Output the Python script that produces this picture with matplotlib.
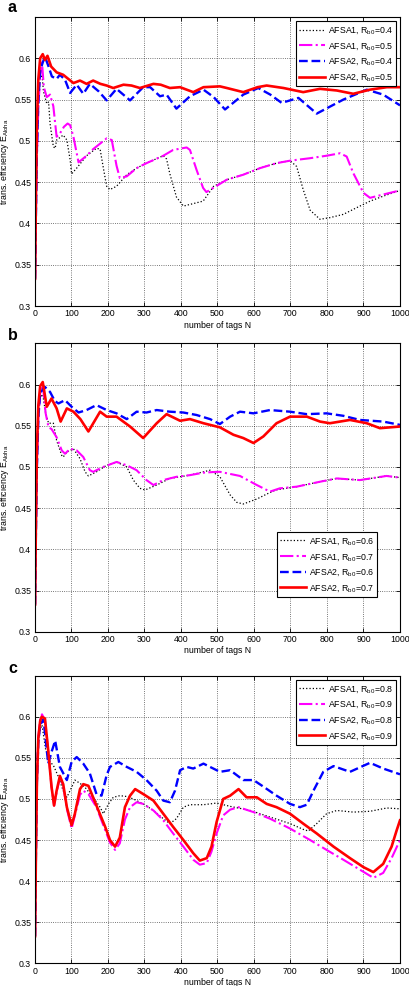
import matplotlib
matplotlib.use("Agg")
import matplotlib.pyplot as plt

plt.rcParams['font.family'] = ['Liberation Sans', 'DejaVu Sans']
plt.rcParams['mathtext.default'] = 'regular'

# ---------------- Panel a ----------------
a_k_n = [1, 3, 6, 10, 15, 20, 24, 33, 38, 42, 51, 56, 60, 78, 88, 97, 101, 115, 142, 169, 179, 188, 197, 206, 224, 252, 279, 306, 352, 361, 370, 388, 407, 425, 461, 490, 526, 571, 617, 662, 699, 717, 735, 754, 781, 808, 845, 881, 918, 954, 1000]
a_k_e = [0.333, 0.40, 0.48, 0.54, 0.575, 0.58, 0.56, 0.545, 0.547, 0.521, 0.493, 0.491, 0.501, 0.507, 0.501, 0.477, 0.46, 0.467, 0.482, 0.491, 0.49, 0.467, 0.445, 0.441, 0.445, 0.459, 0.467, 0.473, 0.482, 0.478, 0.46, 0.432, 0.421, 0.423, 0.427, 0.445, 0.453, 0.459, 0.467, 0.473, 0.476, 0.469, 0.441, 0.416, 0.405, 0.407, 0.411, 0.419, 0.427, 0.433, 0.440]
a_m_n = [1, 3, 6, 10, 15, 20, 25, 33, 42, 51, 60, 69, 80, 90, 97, 106, 120, 142, 160, 180, 197, 211, 224, 233, 252, 279, 306, 352, 379, 416, 425, 443, 461, 470, 500, 526, 571, 617, 662, 699, 754, 799, 836, 854, 872, 900, 918, 954, 1000]
a_m_e = [0.333, 0.40, 0.48, 0.54, 0.58, 0.595, 0.565, 0.553, 0.556, 0.542, 0.505, 0.509, 0.517, 0.521, 0.519, 0.505, 0.474, 0.482, 0.49, 0.497, 0.503, 0.501, 0.47, 0.455, 0.457, 0.467, 0.473, 0.482, 0.489, 0.492, 0.489, 0.465, 0.443, 0.438, 0.446, 0.453, 0.459, 0.467, 0.473, 0.476, 0.479, 0.482, 0.485, 0.481, 0.461, 0.437, 0.431, 0.435, 0.440]
a_b_n = [1, 3, 6, 10, 15, 22, 28, 38, 47, 60, 69, 83, 97, 115, 133, 151, 175, 197, 224, 261, 297, 316, 343, 361, 388, 425, 462, 490, 521, 571, 612, 645, 676, 722, 772, 845, 909, 954, 1000]
a_b_e = [0.333, 0.40, 0.49, 0.55, 0.585, 0.595, 0.602, 0.59, 0.578, 0.575, 0.58, 0.574, 0.558, 0.568, 0.557, 0.569, 0.56, 0.549, 0.563, 0.549, 0.565, 0.565, 0.554, 0.556, 0.539, 0.554, 0.562, 0.553, 0.538, 0.556, 0.564, 0.556, 0.546, 0.552, 0.533, 0.55, 0.562, 0.556, 0.543]
a_r_n = [1, 3, 6, 10, 15, 22, 28, 35, 45, 60, 78, 92, 106, 124, 142, 160, 180, 197, 215, 243, 265, 288, 325, 345, 370, 398, 434, 462, 507, 526, 571, 610, 635, 681, 735, 781, 827, 872, 918, 964, 1000]
a_r_e = [0.333, 0.42, 0.52, 0.575, 0.6, 0.605, 0.598, 0.603, 0.59, 0.583, 0.58, 0.575, 0.57, 0.573, 0.569, 0.573, 0.569, 0.567, 0.564, 0.568, 0.567, 0.564, 0.569, 0.568, 0.564, 0.565, 0.559, 0.565, 0.566, 0.564, 0.559, 0.565, 0.567, 0.564, 0.559, 0.563, 0.561, 0.557, 0.562, 0.565, 0.565]
a_labels = ['AFSA1, R$_{b0}$=0.4', 'AFSA1, R$_{b0}$=0.5', 'AFSA2, R$_{b0}$=0.4', 'AFSA2, R$_{b0}$=0.5']

# ---------------- Panel b ----------------
b_k_n = [1, 3, 6, 10, 15, 22, 30, 38, 51, 60, 74, 78, 88, 106, 124, 138, 147, 169, 197, 224, 252, 270, 288, 302, 334, 370, 425, 480, 507, 535, 553, 571, 608, 635, 660, 717, 781, 827, 890, 963, 1000]
b_k_e = [0.333, 0.41, 0.5, 0.56, 0.585, 0.588, 0.565, 0.553, 0.553, 0.532, 0.514, 0.512, 0.518, 0.522, 0.51, 0.494, 0.489, 0.494, 0.502, 0.506, 0.5, 0.484, 0.474, 0.472, 0.478, 0.486, 0.49, 0.496, 0.488, 0.466, 0.457, 0.455, 0.461, 0.467, 0.472, 0.476, 0.482, 0.486, 0.484, 0.489, 0.487]
b_m_n = [1, 3, 6, 10, 15, 22, 30, 38, 46, 60, 74, 83, 97, 115, 133, 151, 160, 188, 224, 252, 279, 306, 325, 352, 388, 425, 462, 498, 507, 562, 608, 644, 671, 717, 781, 827, 890, 963, 1000]
b_m_e = [0.333, 0.41, 0.5, 0.56, 0.59, 0.6, 0.565, 0.548, 0.546, 0.536, 0.52, 0.516, 0.522, 0.52, 0.512, 0.496, 0.494, 0.5, 0.506, 0.502, 0.496, 0.484, 0.478, 0.484, 0.488, 0.49, 0.493, 0.494, 0.494, 0.489, 0.478, 0.470, 0.474, 0.476, 0.482, 0.486, 0.484, 0.489, 0.487]
b_b_n = [1, 3, 6, 10, 15, 28, 42, 55, 65, 83, 101, 120, 142, 169, 197, 224, 252, 279, 306, 334, 370, 407, 443, 480, 507, 535, 562, 599, 644, 699, 745, 799, 845, 890, 954, 1000]
b_b_e = [0.333, 0.41, 0.5, 0.56, 0.59, 0.597, 0.591, 0.58, 0.577, 0.581, 0.573, 0.566, 0.569, 0.575, 0.569, 0.565, 0.558, 0.567, 0.566, 0.569, 0.567, 0.566, 0.563, 0.558, 0.552, 0.561, 0.567, 0.565, 0.569, 0.567, 0.564, 0.565, 0.562, 0.557, 0.555, 0.551]
b_r_n = [1, 3, 6, 10, 15, 22, 33, 46, 60, 71, 88, 106, 125, 147, 179, 197, 224, 261, 297, 334, 361, 398, 425, 462, 507, 544, 571, 599, 626, 662, 699, 745, 781, 808, 863, 909, 945, 1000]
b_r_e = [0.333, 0.42, 0.52, 0.575, 0.598, 0.603, 0.573, 0.583, 0.571, 0.555, 0.571, 0.567, 0.558, 0.543, 0.567, 0.561, 0.561, 0.549, 0.535, 0.553, 0.564, 0.556, 0.558, 0.553, 0.548, 0.539, 0.535, 0.529, 0.537, 0.553, 0.561, 0.561, 0.555, 0.553, 0.557, 0.553, 0.547, 0.549]
b_labels = ['AFSA1, R$_{b0}$=0.6', 'AFSA1, R$_{b0}$=0.7', 'AFSA2, R$_{b0}$=0.6', 'AFSA2, R$_{b0}$=0.7']

# ---------------- Panel c ----------------
c_k_n = [1, 3, 6, 10, 15, 20, 30, 42, 51, 65, 78, 88, 101, 110, 124, 138, 160, 179, 188, 202, 215, 233, 252, 270, 297, 325, 352, 370, 388, 407, 425, 462, 498, 535, 590, 644, 699, 735, 749, 772, 799, 827, 872, 918, 964, 1000]
c_k_e = [0.333, 0.42, 0.52, 0.57, 0.585, 0.59, 0.56, 0.545, 0.541, 0.527, 0.51, 0.502, 0.514, 0.523, 0.519, 0.514, 0.502, 0.49, 0.482, 0.494, 0.502, 0.504, 0.503, 0.5, 0.494, 0.486, 0.476, 0.47, 0.476, 0.49, 0.493, 0.493, 0.495, 0.491, 0.486, 0.478, 0.47, 0.463, 0.461, 0.47, 0.482, 0.486, 0.484, 0.485, 0.489, 0.488]
c_m_n = [1, 3, 6, 10, 15, 20, 28, 37, 46, 53, 60, 69, 78, 88, 101, 110, 124, 133, 147, 169, 193, 206, 220, 233, 247, 261, 279, 297, 325, 352, 379, 407, 434, 452, 471, 484, 498, 516, 535, 558, 599, 644, 699, 754, 799, 845, 890, 927, 954, 977, 1000]
c_m_e = [0.333, 0.42, 0.52, 0.575, 0.597, 0.603, 0.596, 0.559, 0.515, 0.492, 0.508, 0.526, 0.516, 0.488, 0.464, 0.48, 0.505, 0.51, 0.506, 0.49, 0.462, 0.447, 0.438, 0.446, 0.475, 0.49, 0.496, 0.494, 0.486, 0.474, 0.458, 0.442, 0.426, 0.42, 0.422, 0.436, 0.458, 0.48, 0.487, 0.49, 0.484, 0.476, 0.464, 0.45, 0.438, 0.426, 0.414, 0.404, 0.41, 0.428, 0.45]
c_b_n = [1, 3, 6, 10, 15, 24, 37, 46, 56, 69, 88, 101, 115, 133, 151, 169, 183, 197, 206, 229, 252, 279, 306, 334, 352, 370, 384, 398, 416, 434, 462, 489, 507, 535, 571, 599, 626, 662, 699, 726, 745, 763, 790, 818, 863, 918, 954, 1000]
c_b_e = [0.333, 0.42, 0.52, 0.57, 0.59, 0.597, 0.543, 0.557, 0.571, 0.539, 0.523, 0.545, 0.551, 0.543, 0.531, 0.506, 0.504, 0.529, 0.539, 0.545, 0.539, 0.533, 0.523, 0.51, 0.498, 0.496, 0.51, 0.535, 0.539, 0.537, 0.543, 0.537, 0.533, 0.535, 0.523, 0.523, 0.515, 0.504, 0.494, 0.49, 0.493, 0.51, 0.533, 0.54, 0.533, 0.544, 0.537, 0.53]
c_r_n = [1, 3, 6, 10, 15, 19, 28, 37, 46, 53, 60, 69, 78, 88, 101, 110, 124, 133, 147, 169, 193, 206, 220, 233, 247, 261, 275, 297, 325, 352, 379, 407, 434, 452, 471, 484, 498, 516, 535, 558, 580, 608, 635, 662, 699, 735, 772, 818, 863, 900, 927, 954, 977, 991, 1000]
c_r_e = [0.333, 0.42, 0.52, 0.575, 0.595, 0.6, 0.598, 0.559, 0.515, 0.492, 0.51, 0.528, 0.518, 0.49, 0.468, 0.482, 0.512, 0.518, 0.516, 0.492, 0.466, 0.45, 0.442, 0.453, 0.49, 0.504, 0.512, 0.506, 0.498, 0.482, 0.466, 0.45, 0.434, 0.425, 0.428, 0.442, 0.472, 0.5, 0.504, 0.512, 0.502, 0.502, 0.494, 0.49, 0.482, 0.47, 0.458, 0.442, 0.428, 0.417, 0.411, 0.421, 0.442, 0.462, 0.474]
c_labels = ['AFSA1, R$_{b0}$=0.8', 'AFSA1, R$_{b0}$=0.9', 'AFSA2, R$_{b0}$=0.8', 'AFSA2, R$_{b0}$=0.9']

x_ticks = [0, 100, 200, 300, 400, 500, 600, 700, 800, 900, 1000]
y_ticks = [0.3, 0.35, 0.4, 0.45, 0.5, 0.55, 0.6]
y_tick_labels = ['0.3', '0.35', '0.4', '0.45', '0.5', '0.55', '0.6']
x_label = 'number of tags N'
y_label = 'trans. efficiency E$_{Aloha}$'
panel_letters = ['a', 'b', 'c']

W, H = 409, 986
fig = plt.figure(figsize=(W / 100, H / 100), dpi=100)

def px_axes(left, top, right, bottom):
    return fig.add_axes([left / W, 1 - bottom / H, (right - left) / W, (bottom - top) / H])

fs = 6.3
panels = [
    (px_axes(34.7, 17.0, 400, 306.0), (a_k_n, a_k_e), (a_m_n, a_m_e), (a_b_n, a_b_e), (a_r_n, a_r_e), a_labels,
     dict(loc='upper right', bbox_to_anchor=(0.989, 0.986))),
    (px_axes(34.7, 343.3, 400, 631.7), (b_k_n, b_k_e), (b_m_n, b_m_e), (b_b_n, b_b_e), (b_r_n, b_r_e), b_labels,
     dict(loc='lower right', bbox_to_anchor=(0.937, 0.12))),
    (px_axes(34.7, 675.7, 400, 963.3), (c_k_n, c_k_e), (c_m_n, c_m_e), (c_b_n, c_b_e), (c_r_n, c_r_e), c_labels,
     dict(loc='upper right', bbox_to_anchor=(0.989, 0.986))),
]

for ax, k, m, b, r, labels, legkw in panels:
    ax.plot(k[0], k[1], color='k', linestyle=':', linewidth=0.9, label=labels[0])
    ax.plot(m[0], m[1], color='#ff00ff', linestyle='-.', linewidth=1.5, label=labels[1])
    ax.plot(b[0], b[1], color='#0000ff', linestyle='--', linewidth=1.7, label=labels[2])
    ax.plot(r[0], r[1], color='#ff0000', linestyle='-', linewidth=1.9, label=labels[3])
    ax.set_xlim(0, 1000)
    ax.set_ylim(0.3, 0.65)
    ax.set_xticks(x_ticks)
    ax.set_yticks(y_ticks)
    ax.set_yticklabels(y_tick_labels)
    ax.tick_params(direction='in', length=3, width=0.6, labelsize=fs, top=True, right=True, pad=2.5)
    ax.grid(True, color='k', linestyle=':', linewidth=0.6, alpha=0.7)
    for s in ax.spines.values():
        s.set_linewidth(0.8)
    ax.set_xlabel(x_label, fontsize=fs, labelpad=1.5)
    ax.set_ylabel(y_label, fontsize=fs, labelpad=2)
    leg = ax.legend(fontsize=6.3, fancybox=False, framealpha=1, edgecolor='k',
                    handlelength=3.0, handletextpad=0.3, labelspacing=0.42,
                    borderpad=0.35, borderaxespad=0.0, **legkw)
    leg.get_frame().set_linewidth(0.8)

fig.text(8 / W, 1 - 12 / H, panel_letters[0], fontsize=11.5, fontweight='bold', va='baseline')
fig.text(8 / W, 1 - 340 / H, panel_letters[1], fontsize=11.5, fontweight='bold', va='baseline')
fig.text(8 / W, 1 - 673 / H, panel_letters[2], fontsize=11.5, fontweight='bold', va='baseline')

fig.savefig('out.png', dpi=100)
